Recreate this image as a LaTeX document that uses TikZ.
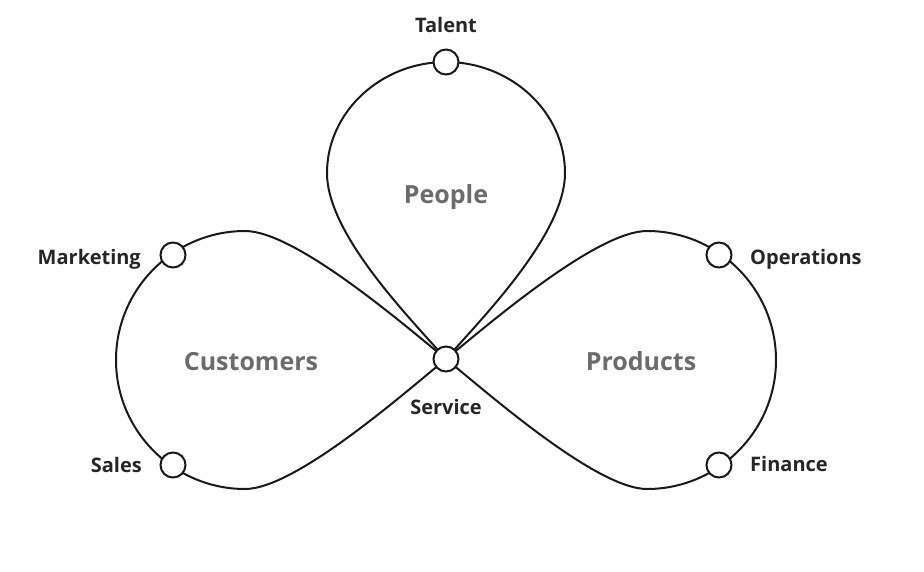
\documentclass[tikz,border=0pt]{standalone}
\usepackage{fontspec}
\setmainfont{Open Sans}
\begin{document}
\begin{tikzpicture}[x=1pt,y=-1pt,
  loopline/.style={line width=2pt, black!90},
  port/.style={circle, draw=black!90, fill=white, line width=2pt, minimum size=25pt, inner sep=0pt},
  lab/.style={font=\bfseries\fontsize{20}{24}\selectfont, text=black!85, inner sep=0pt},
  area/.style={font=\bfseries\fontsize{25}{30}\selectfont, text=black!58, inner sep=0pt}]
\useasboundingbox (0,0) rectangle (924,571);
\coordinate (S) at (446,359);
% top loop
\draw[loopline] (S) .. controls (406,314) and (327,233) .. (327,173)
  .. controls (327,112) and (381,62) .. (446,62)
  .. controls (511,62) and (565,112) .. (565,173)
  .. controls (565,233) and (486,314) .. (S);
% left loop
\draw[loopline] (S) .. controls (402,323) and (295,231) .. (245,231)
  .. controls (174,231) and (116,289) .. (116,360)
  .. controls (116,431) and (174,489) .. (245,489)
  .. controls (295,489) and (402,395) .. (S);
% right loop
\draw[loopline] (S) .. controls (490,323) and (597,231) .. (647,231)
  .. controls (718,231) and (776,289) .. (776,360)
  .. controls (776,431) and (718,489) .. (647,489)
  .. controls (597,489) and (490,395) .. (S);
\node[port] (pS) at (S) {};
\node[port] (pT) at (446,62) {};
\node[port] (pM) at (173,255) {};
\node[port] (pSa) at (173,465) {};
\node[port] (pO) at (719,255) {};
\node[port] (pF) at (719,465) {};
\node[lab, anchor=base] (tT) at (446,32) {Talent};
\node[lab, anchor=base east] (tM) at (141,264) {Marketing};
\node[lab, anchor=base east] (tSa) at (142,472) {Sales};
\node[lab, anchor=base west] (tO) at (750,264) {Operations};
\node[lab, anchor=base west] (tF) at (750,471) {Finance};
\node[lab, anchor=base] (tS) at (446,414) {Service};
\node[area, anchor=base] (aP) at (446,203) {People};
\node[area, anchor=base] (aC) at (251,370) {Customers};
\node[area, anchor=base] (aPr) at (641,370) {Products};
\end{tikzpicture}
\end{document}
